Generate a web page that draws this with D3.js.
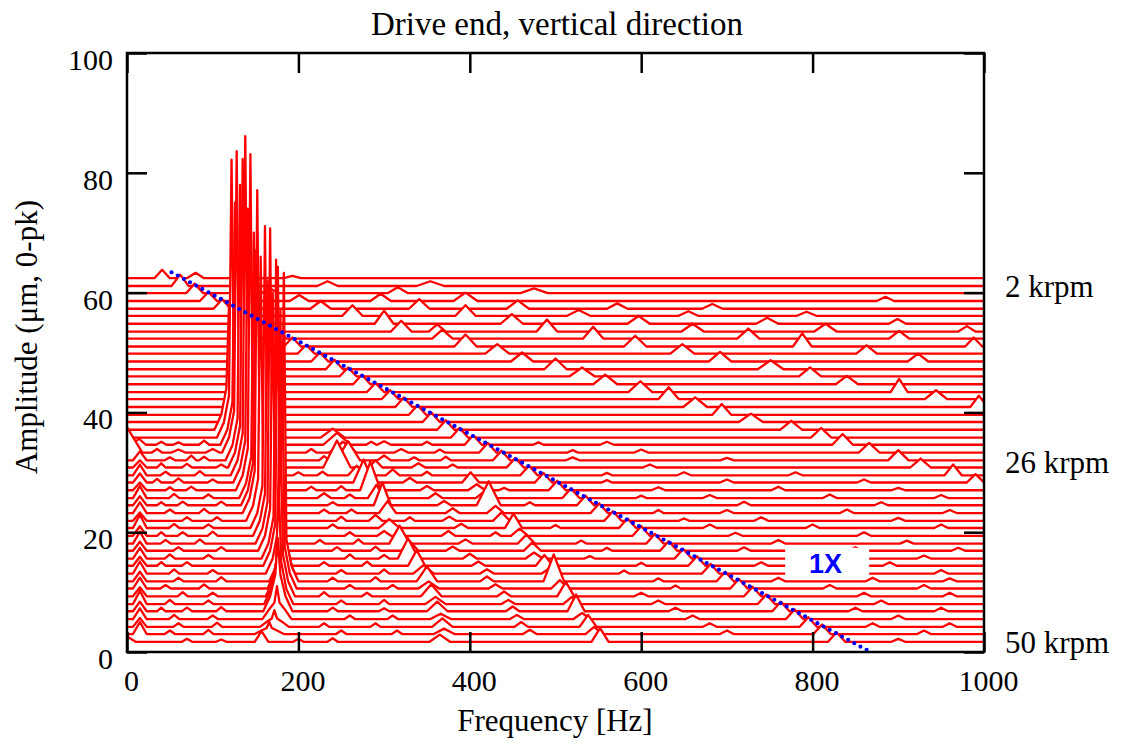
<!DOCTYPE html>
<html>
<head>
<meta charset="utf-8">
<title>Drive end, vertical direction</title>
<script src="https://cdn.jsdelivr.net/npm/d3@7"></script>
<style>
  body { margin: 0; background: #fff; }
</style>
</head>
<body>
<div id="chart"></div>
<script>
// rotor speed of each trace (krpm), top trace first
var speeds = [2,3,4,5,6,7,8,9,10,11,12,13,14,15,16,17,18,19,20,21,22,23,24,25,26,
              27,28,29,30,31,32,33,34,35,36,37,38,39,40,41,42,43,44,45,46,47,48,49,50];

// waterfall offset (um) of each trace
var baselines = [62.4,61.1,59.9,58.6,57.3,56.1,54.8,53.5,52.3,51.0,49.8,48.5,47.2,46.0,44.7,
                 43.4,42.2,40.9,39.6,38.4,37.1,35.8,34.6,33.3,32.0,30.8,29.5,28.3,27.0,25.7,
                 24.5,23.2,21.9,20.7,19.4,18.1,16.9,15.6,14.4,13.1,11.8,10.6,9.3,8.0,6.8,
                 5.5,4.2,3.0,1.7];

// spectral peaks of each trace: [frequency Hz, amplitude above offset, half width Hz]
var peaks = [
  [[41,1.4,9],[80,0.9,10],[193,0.4,10]],
  [[62,1.9,10],[134,0.6,10],[234,0.8,12],[354,0.8,16]],
  [[79,1.6,10],[167,0.8,10],[316,1.0,12],[475,0.8,16]],
  [[95,1.5,10],[201,1.0,11],[296,1.2,12],[395,1.4,14],[885,0.7,10]],
  [[111,1.6,10],[226,1.3,12],[341,1.6,12],[456,1.4,13],[572,0.9,12],[683,0.8,12]],
  [[128,1.5,10],[263,1.8,12],[395,1.8,12],[527,1.0,14],[655,0.8,12],[793,0.7,12]],
  [[144,1.5,10],[300,2.2,11],[449,1.6,13],[597,1.3,13],[747,1.0,13],[899,0.8,10]],
  [[160,1.5,10],[320,1.8,12],[362,1.2,10],[490,2.0,12],[660,1.3,13],[815,1.3,13],[980,0.9,10]],
  [[176,1.5,10],[368,1.5,12],[544,2.0,12],[725,1.7,13],[901,1.3,12]],
  [[193,1.5,10],[395,2.0,13],[593,1.8,13],[788,2.2,11],[988,1.5,10]],
  [[209,1.5,10],[432,1.6,14],[648,1.6,14],[863,1.4,12]],
  [[225,1.5,10],[461,1.5,13],[692,1.6,13],[923,1.3,12]],
  [[242,1.6,10],[500,1.8,13],[751,1.5,15]],
  [[258,1.5,10],[531,1.5,15],[797,1.5,13]],
  [[274,1.6,10],[558,1.6,14],[840,1.4,13]],
  [[290,1.5,10],[599,1.8,14],[901,2.2,10]],
  [[307,1.5,10],[632,2.0,12],[944,1.5,13]],
  [[323,1.6,10],[663,1.6,14],[994,1.9,10]],
  [[339,1.6,10],[694,1.8,11]],
  [[355,1.6,10],[728,1.4,14]],
  [[372,1.6,10],[775,1.5,13]],
  [[240,1.5,14],[388,1.6,10],[810,1.6,12]],
  [[14,1.0,8],[40,0.5,6],[60,0.4,6],[90,0.7,6],[245,2.0,16],[285,0.5,6],[300,0.6,8],[350,0.5,6],[404,1.6,10],[480,0.4,6],[560,0.5,8],[835,1.8,12]],
  [[0,4.2,18],[35,0.6,6],[60,0.5,8],[100,0.6,8],[215,0.6,6],[252,1.8,16],[320,0.6,8],[365,0.5,6],[421,1.6,10],[520,0.4,6],[600,0.5,8],[866,1.6,12]],
  [[15,1.5,8],[50,0.5,6],[75,0.8,6],[90,0.6,6],[230,0.7,6],[258,3.2,14],[300,0.8,8],[335,0.5,6],[372,0.6,6],[437,1.6,10],[520,0.5,8],[700,0.4,8],[900,1.7,12]],
  [[15,1.2,8],[40,0.7,5],[70,0.6,6],[110,0.5,6],[245,4.5,16],[290,1.2,8],[340,0.7,8],[380,0.5,6],[453,1.6,10],[610,0.5,8],[926,1.5,12]],
  [[15,1.8,8],[45,0.6,6],[85,0.7,6],[200,0.5,6],[228,0.6,6],[268,1.6,10],[310,1.0,8],[350,0.6,6],[469,1.6,10],[560,0.4,6],[650,0.5,8],[780,0.5,8],[964,1.8,10]],
  [[15,1.5,8],[35,0.6,5],[60,0.7,6],[100,0.5,6],[276,3.8,12],[330,0.8,8],[401,1.7,10],[486,1.6,10],[560,0.4,6],[700,0.5,8],[860,0.5,8],[990,1.4,10]],
  [[15,1.3,8],[50,0.5,5],[75,0.6,6],[215,0.6,6],[250,0.7,6],[284,4.8,12],[350,0.7,8],[408,1.0,10],[440,0.4,6],[502,1.6,10],[620,0.5,8],[760,0.6,8],[900,0.4,8]],
  [[15,2.0,8],[55,0.7,6],[95,0.6,6],[230,0.8,8],[260,0.6,6],[291,2.2,10],[360,0.8,8],[415,0.9,8],[518,1.6,10],[600,0.4,6],[680,0.5,8],[820,0.6,8],[950,0.5,8]],
  [[15,1.5,8],[40,0.5,5],[65,0.6,6],[110,0.6,6],[240,0.5,6],[298,3.8,10],[370,0.7,8],[422,4.0,14],[470,0.5,6],[535,1.6,10],[720,0.6,8],[880,0.5,8]],
  [[15,1.8,8],[50,0.6,6],[90,0.7,6],[230,0.6,6],[262,0.6,6],[304,2.0,10],[380,0.8,8],[430,1.2,10],[551,1.6,10],[620,0.5,6],[700,0.5,8],[840,0.6,8],[960,0.5,8]],
  [[15,1.4,8],[70,0.6,6],[105,0.6,6],[250,0.7,6],[290,1.0,8],[330,0.6,6],[376,0.7,8],[437,1.4,10],[567,1.6,10],[650,0.4,6],[740,0.6,8],[900,0.5,8]],
  [[15,2.2,8],[55,0.7,6],[95,0.6,6],[240,0.6,6],[306,1.5,12],[390,0.7,8],[451,2.4,10],[500,0.5,6],[584,1.6,10],[680,0.6,8],[800,0.6,8],[950,0.6,8]],
  [[15,1.6,8],[40,0.6,5],[65,0.6,6],[100,0.7,6],[260,0.6,6],[300,0.8,8],[375,0.8,8],[430,0.6,6],[458,1.2,10],[600,1.6,10],[710,0.5,8],[860,0.6,8]],
  [[15,2.0,8],[45,0.6,6],[85,0.7,6],[225,0.6,6],[270,0.7,6],[318,3.0,12],[395,0.7,8],[466,1.5,10],[530,0.5,6],[616,1.6,10],[760,0.6,8],[910,0.5,8]],
  [[15,1.5,8],[60,0.6,6],[110,0.6,6],[245,0.6,6],[290,0.7,6],[330,1.6,10],[380,0.7,8],[473,1.4,10],[560,0.5,6],[632,1.6,10],[720,0.6,8],[850,0.6,8],[970,0.5,8]],
  [[15,1.8,8],[50,0.7,6],[95,0.6,6],[260,0.7,6],[300,0.6,6],[328,3.4,12],[400,0.8,8],[475,1.0,10],[540,0.4,6],[649,1.6,10],[780,0.6,8],[930,0.5,8]],
  [[15,1.5,8],[40,0.6,5],[70,0.6,6],[230,0.6,6],[280,0.7,6],[338,2.6,10],[410,0.7,8],[487,1.8,10],[600,0.5,6],[665,1.6,10],[740,0.6,8],[890,0.6,8]],
  [[15,2.0,8],[55,0.7,6],[100,0.6,6],[250,0.6,6],[300,0.7,6],[346,1.4,12],[420,0.7,8],[494,1.0,10],[580,0.5,6],[681,1.6,10],[800,0.6,8],[950,0.6,8]],
  [[15,1.6,8],[60,0.6,6],[110,0.7,6],[240,0.6,6],[290,0.7,6],[350,2.5,12],[420,0.8,8],[498,4.5,12],[620,0.5,6],[698,1.6,10],[760,0.6,8],[870,0.6,8],[960,0.5,8]],
  [[15,1.8,8],[45,0.6,6],[90,0.7,6],[260,0.6,6],[310,0.6,6],[352,1.2,12],[430,0.7,8],[505,1.4,10],[640,0.5,6],[714,1.6,10],[820,0.6,8],[930,0.6,8]],
  [[15,1.5,8],[65,0.7,6],[100,0.6,6],[230,0.7,6],[280,0.6,6],[355,2.0,12],[440,0.8,8],[512,2.4,10],[600,0.6,8],[730,1.6,10],[860,0.6,8],[960,0.6,8]],
  [[15,2.2,8],[50,0.7,6],[95,0.6,6],[250,0.6,6],[300,0.7,6],[360,1.2,12],[445,0.7,8],[519,1.2,10],[620,0.6,8],[746,1.6,10],[880,0.6,8]],
  [[15,1.6,8],[40,0.6,5],[70,0.6,6],[110,0.7,6],[240,0.6,6],[300,0.5,6],[362,1.6,12],[450,0.8,8],[524,2.8,10],[640,0.6,8],[763,1.6,10],[850,0.6,8],[950,0.6,8]],
  [[15,1.8,8],[55,0.7,6],[100,0.6,6],[260,0.6,6],[310,0.6,6],[366,0.9,12],[455,0.7,8],[531,1.0,10],[660,0.6,8],[779,1.6,10],[900,0.6,8]],
  [[15,1.5,8],[60,0.6,6],[105,0.7,6],[230,0.6,6],[290,0.6,6],[368,1.4,12],[460,0.8,8],[538,2.0,10],[680,0.6,8],[795,1.6,10],[870,0.6,8],[960,0.6,8]],
  [[15,2.0,8],[50,0.6,6],[95,0.7,6],[250,0.6,6],[315,0.6,6],[370,0.9,12],[470,0.7,8],[545,1.2,10],[700,0.6,8],[811,1.6,10],[930,0.6,8]],
  [[0,0.9,10],[70,0.5,6],[110,0.4,6],[157,1.8,8],[200,0.5,6],[240,0.6,6],[365,1.2,12],[552,2.3,10],[828,1.6,10],[900,0.5,8]]
];

// sub-synchronous whirl: [speed krpm, frequency Hz, peak amplitude um on the plot]
var subsync = [
  [22,119,58],[23,122,82.2],[24,126,75],[25,128,83.6],[26,132,78],[27,135,82.3],
  [28,138,86.1],[29,141,74],[30,144,83.1],[31,148,70],[32,150,67],[33,152,77.1],
  [34,156,66],[35,161,71.1],[36,164,62],[37,167,70.7],[38,170,60],[39,174,65.5],
  [40,176,64.3],[41,179,57],[42,183,63.3],[43,181,48],[44,179,38],[45,177,28],
  [46,176,19],[47,175,11],[48,172,7],[49,166,5]
];

// 1X tracking line end points [Hz, um]
var oneX = [[52,63.4],[865,0.2]];

var xTicks = [0,200,400,600,800,1000];
var yTicks = [0,20,40,60,80,100];
var speedLabels = ["2 krpm","26 krpm","50 krpm"];
var speedLabelAt = [59.3,29.9,-0.2];

var SERIF = "Liberation Serif";
var W = 1124, H = 746;
var x = d3.scaleLinear().domain([0,1000]).range([127,984]);
var y = d3.scaleLinear().domain([0,100]).range([652,53]);

var svg = d3.select("#chart").append("svg")
  .attr("width", W)
  .attr("height", H)
  .attr("font-family", SERIF);

svg.append("defs").append("clipPath")
  .attr("id","plotclip")
  .append("rect")
  .attr("x", x(0)).attr("y", y(100))
  .attr("width", x(1000)-x(0)).attr("height", y(0)-y(100));

// turn a list of peaks into polyline vertices (offset-relative)
function vertices(list) {
  var pk = list.slice().sort(function(a,b){ return a[0]-b[0]; });
  var v = [[-60,0]];
  var open = null;
  pk.forEach(function(p) {
    var left = p[0]-p[2];
    if (open === null || left >= open) {
      if (open !== null) v.push([open,0]);
      v.push([left,0]);
    }
    v.push([p[0],p[1]]);
    open = p[0]+p[2];
  });
  if (open !== null) v.push([open,0]);
  v.push([1060,0]);
  return v;
}

var traces = svg.append("g").attr("clip-path","url(#plotclip)");

speeds.forEach(function(s,i) {
  var b = baselines[i];
  var list = peaks[i].slice();
  subsync.forEach(function(d) {
    if (d[0] !== s) return;
    var h = d[2]-b;
    list.push([d[1]-9, Math.min(2.5,h*0.3), 8]);
    list.push([d[1]-3, Math.min(7,h*0.5), 4]);
    list.push([d[1], h, 3]);
    list.push([d[1]+3, Math.min(7,h*0.5), 4]);
    list.push([d[1]+9, Math.min(2.5,h*0.3), 8]);
  });
  var v = vertices(list);

  var area = d3.area()
    .x(function(d){ return x(d[0]); })
    .y0(y(b))
    .y1(function(d){ return y(b+d[1]); });
  var line = d3.line()
    .x(function(d){ return x(d[0]); })
    .y(function(d){ return y(b+d[1]); });

  traces.append("path")
    .attr("d", area(v))
    .attr("fill","#fff");
  traces.append("path")
    .attr("d", line(v))
    .attr("fill","none")
    .attr("stroke","#ff0000")
    .attr("stroke-width",2.3)
    .attr("stroke-linejoin","round");
});

// 1X line
svg.append("path")
  .attr("d", d3.line().x(function(d){ return x(d[0]); }).y(function(d){ return y(d[1]); })(oneX))
  .attr("fill","none")
  .attr("stroke","#0000ff")
  .attr("stroke-width",4.2)
  .attr("stroke-linecap","round")
  .attr("stroke-dasharray","0,7");

// 1X label
svg.append("rect")
  .attr("x", x(768)).attr("y", y(17.4))
  .attr("width", x(866)-x(768)).attr("height", y(12.5)-y(17.4))
  .attr("fill","#fff");
svg.append("text")
  .attr("x", x(815)).attr("y", y(14.7))
  .attr("text-anchor","middle")
  .attr("dominant-baseline","central")
  .attr("font-family","Liberation Sans")
  .attr("font-weight","bold")
  .attr("font-size",27)
  .attr("fill","#0000ff")
  .text("1X");

// axes, ticks on the inside as in gnuplot
var axes = svg.append("g");
var gl = axes.append("g")
  .attr("transform","translate("+x(0)+",0)")
  .call(d3.axisLeft(y).tickValues(yTicks).tickSize(-20).tickSizeOuter(0).tickPadding(14));
axes.append("g")
  .attr("transform","translate("+x(1000)+",0)")
  .call(d3.axisRight(y).tickValues(yTicks).tickSize(-20).tickSizeOuter(0).tickFormat(""));
var gb = axes.append("g")
  .attr("transform","translate(0,"+y(0)+")")
  .call(d3.axisBottom(x).tickValues(xTicks).tickFormat(d3.format("d")).tickSize(-20).tickSizeOuter(0).tickPadding(18));
axes.append("g")
  .attr("transform","translate(0,"+y(100)+")")
  .call(d3.axisTop(x).tickValues(xTicks).tickSize(-20).tickSizeOuter(0).tickFormat(""));

axes.selectAll(".domain").remove();
axes.selectAll("g").attr("font-family", SERIF).attr("font-size", 30);
axes.selectAll(".tick line").attr("stroke","#000").attr("stroke-width",2.5);
axes.selectAll(".tick text").attr("fill","#000");
gl.selectAll(".tick text").attr("dy","0.55em");
gb.selectAll(".tick text").attr("dx","4");

svg.append("rect")
  .attr("x", x(0)).attr("y", y(100))
  .attr("width", x(1000)-x(0)).attr("height", y(0)-y(100))
  .attr("fill","none")
  .attr("stroke","#000")
  .attr("stroke-width",2.5);

// titles
svg.append("text")
  .attr("x", 557).attr("y", 35)
  .attr("text-anchor","middle")
  .attr("font-size",33)
  .text("Drive end, vertical direction");
svg.append("text")
  .attr("x", 555).attr("y", 731)
  .attr("text-anchor","middle")
  .attr("font-size",31)
  .text("Frequency [Hz]");
svg.append("text")
  .attr("transform","translate(37,337) rotate(-90)")
  .attr("text-anchor","middle")
  .attr("font-size",31)
  .text("Amplitude (\u03bcm, 0-pk)");

svg.selectAll(".speedlabel")
  .data(speedLabels)
  .enter().append("text")
  .attr("class","speedlabel")
  .attr("x", 1005)
  .attr("y", function(d,i){ return y(speedLabelAt[i]); })
  .attr("font-size",31)
  .text(function(d){ return d; });
</script>
</body>
</html>
